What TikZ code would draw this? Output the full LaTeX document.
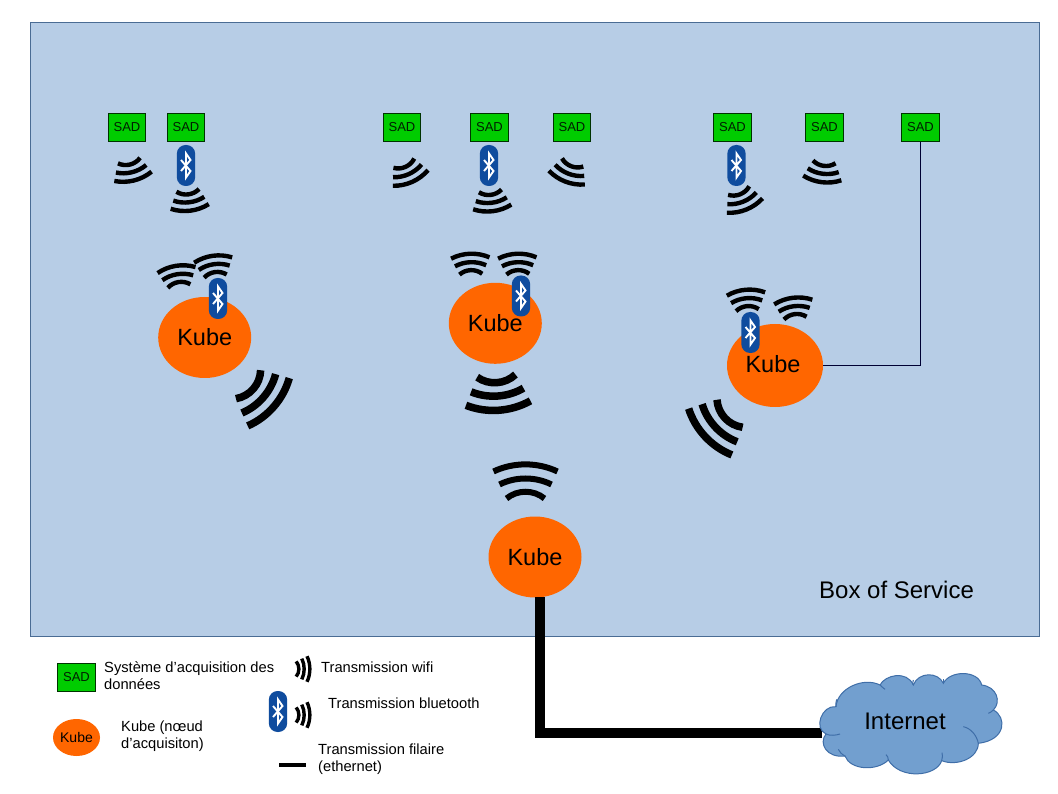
\documentclass[tikz,border=0pt]{standalone}
\usepackage{fontspec}
\setmainfont{Liberation Sans}
\usetikzlibrary{shapes.geometric}
\definecolor{boxfill}{HTML}{B7CDE6}
\definecolor{boxline}{HTML}{4A6C94}
\definecolor{sadgreen}{HTML}{00CC00}
\definecolor{kubeorange}{HTML}{FF6600}
\definecolor{btblue}{HTML}{0F4C9E}
\definecolor{cloudfill}{HTML}{729FCF}
\definecolor{cloudline}{HTML}{3F6EA8}
\newcommand{\fs}[1]{\fontsize{#1pt}{#1pt}\selectfont}
\tikzset{
  sadbox/.style={draw=black!75!sadgreen,line width=0.9pt,fill=sadgreen,minimum width=37.5pt,minimum height=28.5pt,inner sep=0pt,font=\fs{13},text=black!85!sadgreen},
  kube/.style={ellipse,fill=kubeorange,minimum width=93pt,minimum height=81pt,inner sep=0pt,font=\fs{23.5}},
  legendtext/.style={anchor=west,inner sep=0pt,align=left,font=\fs{14.7}},
  wave/.style={line width=#1,draw=black},
  hook/.style={cloudline,line width=1pt},
}
% \wifi{x}{y}{rotation}{scale}{line width}
\newcommand{\wifi}[5]{%
  \begin{scope}[shift={(#1,#2)},rotate=#3,scale=#4]
    \draw[wave=#5] (-32,-10) .. controls (-12,-19.5) and (12,-19.5) .. (32,-10);
    \draw[wave=#5] (-26,3) .. controls (-10,-5) and (10,-5) .. (26,3);
    \draw[wave=#5] (-19,17) .. controls (-8,8) and (8,8) .. (19,17);
  \end{scope}}
% \bt{x}{y}
\newcommand{\bt}[2]{%
  \begin{scope}[shift={(#1,#2)}]
    \fill[btblue,rounded corners=8.8pt] (-9.2,-20.5) rectangle (9.2,20.5);
    \draw[white,line width=1.9pt,line join=miter] (-5,-5.5) -- (4.5,5.5) -- (0,12) -- (0,-12) -- (4.5,-5.5) -- (-5,5.5);
  \end{scope}}
\begin{document}
\begin{tikzpicture}[x=1pt,y=-1pt]
\useasboundingbox (0,0) rectangle (1058,794);
\fill[white] (0,0) rectangle (1058,794);
\draw[boxline,fill=boxfill,line width=0.8pt] (30.5,22.5) rectangle (1039.5,636.5);

% SAD boxes
\node[sadbox] (s1) at (127,127.5) {SAD};
\node[sadbox] (s2) at (186,127.5) {SAD};
\node[sadbox] (s3) at (402,127.5) {SAD};
\node[sadbox] (s4) at (489.5,127.5) {SAD};
\node[sadbox] (s5) at (572,127.5) {SAD};
\node[sadbox] (s6) at (732.5,127.5) {SAD};
\node[sadbox] (s7) at (824.5,127.5) {SAD};
\node[sadbox] (s8) at (920.5,127.5) {SAD};

% waves
\wifi{131.5}{170.5}{194}{0.6}{4.4pt}
\wifi{189}{200.5}{187}{0.6}{4.4pt}
\wifi{177.5}{276}{9}{0.6}{4.4pt}
\wifi{214}{266}{8}{0.6}{4.4pt}
\wifi{261}{395.5}{-131}{0.99}{7.5pt}
\wifi{408}{172.5}{204}{0.6}{4.4pt}
\wifi{491.5}{201}{187}{0.6}{4.4pt}
\wifi{569}{172}{159}{0.6}{4.4pt}
\wifi{470.5}{264}{2}{0.6}{4.4pt}
\wifi{517.5}{264}{2}{0.6}{4.4pt}
\wifi{497.5}{393}{184}{1.01}{7.5pt}
\wifi{742.5}{200}{202}{0.6}{4.4pt}
\wifi{823}{172}{173}{0.6}{4.4pt}
\wifi{746.5}{300}{5}{0.6}{4.4pt}
\wifi{794}{308}{7}{0.6}{4.4pt}
\wifi{717.5}{425}{133}{0.99}{7.5pt}
\wifi{525.5}{481.5}{0}{1}{6pt}

% Kubes
\node[kube] (k1) at (204.7,337.5) {Kube};
\node[kube] (k2) at (495.3,323.3) {Kube};
\node[kube,minimum width=96pt,minimum height=83pt] (k3) at (775,365.5) {\kern-4pt\raisebox{4pt}{Kube}};
\node[kube] (k4) at (535,557) {Kube};

% wired links
\draw[line width=1.3pt,black!80!blue] (s8.south) |- (k3.east);
\coordinate (wirestart) at (539.5,597);
\coordinate (wireend) at (822,733);
\draw[line width=10pt,black,line join=miter] (wirestart) |- (wireend);

% bluetooth
\bt{186}{165.5}
\bt{218}{298.5}
\bt{489}{165.5}
\bt{521}{296}
\bt{736.5}{165.5}
\bt{750.5}{332.5}

% text
\node[inner sep=0pt,font=\fs{24},anchor=base west] (boxlabel) at (819,598) {Box of Service};

% cloud
\begin{scope}[shift={(800,660)},scale=1/3]
  \draw[cloudline,fill=cloudfill,line width=1pt]
    (108,140) .. controls (112,85) and (190,50) .. (240,75)
    .. controls (255,45) and (320,30) .. (340,75)
    .. controls (355,35) and (415,35) .. (430,70)
    .. controls (450,30) and (535,30) .. (545,75)
    .. controls (590,80) and (605,125) .. (580,150)
    .. controls (620,170) and (620,240) .. (535,250)
    .. controls (535,295) and (470,320) .. (425,302)
    .. controls (410,350) and (300,360) .. (265,300)
    .. controls (230,335) and (150,330) .. (135,288)
    .. controls (80,295) and (55,250) .. (78,222)
    .. controls (40,205) and (65,135) .. (108,140) -- cycle;
  \draw[hook] (78,222) .. controls (90,228) and (108,226) .. (120,222);
  \draw[hook] (490,200) .. controls (512,205) and (530,225) .. (535,250);
  \draw[hook] (135,288) .. controls (125,283) and (118,275) .. (115,268);
  \draw[hook] (265,300) .. controls (265,292) and (262,288) .. (258,284);
  \draw[hook] (425,302) .. controls (428,292) and (428,285) .. (426,278);
  \draw[hook] (580,150) .. controls (575,155) and (570,158) .. (565,160);
  \draw[hook] (108,140) .. controls (107,132) and (108,125) .. (110,118);
  \draw[hook] (240,75) .. controls (245,80) and (250,84) .. (255,88);
  \draw[hook] (340,75) .. controls (338,70) and (338,66) .. (340,60);
  \draw[hook] (430,70) .. controls (428,66) and (428,62) .. (430,58);
\end{scope}
\node[inner sep=0pt,font=\fs{24}] (internet) at (905,721) {Internet};

% legend
\node[sadbox] (legsad) at (76.5,677.5) {SAD};
\node[kube,minimum width=47pt,minimum height=37pt,font=\fs{14}] (legkube) at (76.5,737.5) {Kube};
\node[legendtext] (t1) at (104,675.5) {Système d’acquisition des\\[2.5pt]données};
\node[legendtext] (t2) at (121,736) {Kube (nœud\\[2.5pt]d’acquisiton)};
\node[legendtext] (t3) at (321,667) {Transmission wifi};
\node[legendtext] (t4) at (328,703) {Transmission bluetooth};
\node[legendtext] (t5) at (318,759.5) {Transmission filaire\\[2.5pt](ethernet)};
\wifi{303}{669}{-90}{0.4}{3.4pt}
\wifi{303}{715}{-90}{0.4}{3.4pt}
\bt{278}{711.5}
\coordinate (lega) at (279,765);
\coordinate (legb) at (306,765);
\draw[line width=4.5pt,black] (lega) -- (legb);
\end{tikzpicture}
\end{document}
